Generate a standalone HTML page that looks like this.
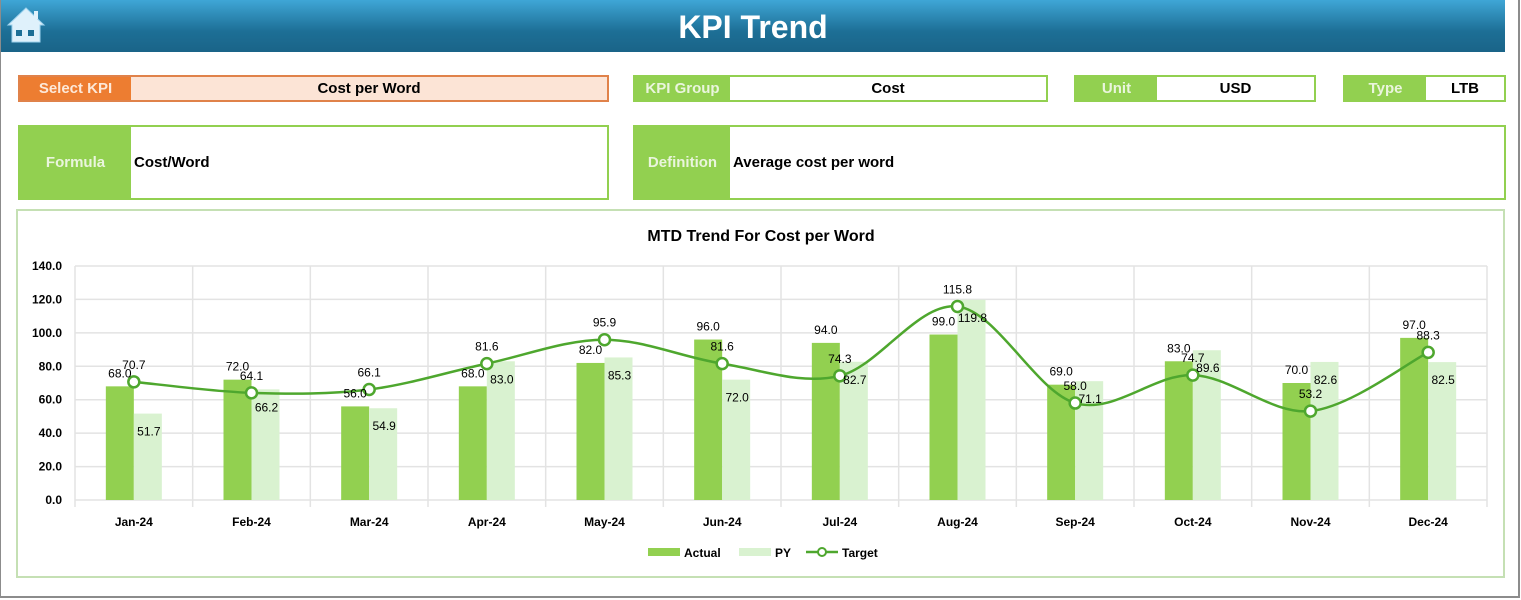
<!DOCTYPE html>
<html><head><meta charset="utf-8"><style>
body{margin:0;width:1521px;height:600px;overflow:hidden;background:#fff;font-family:"Liberation Sans",sans-serif;}
.frame{position:absolute;left:0;top:0;width:1517px;height:596px;border:2px solid #8c8c8c;border-top:none;border-left:1px solid #8c8c8c;}
.hdr{position:absolute;left:1px;top:0;width:1504px;height:52px;background:linear-gradient(#3fa6d6,#1d6f96 60%,#1a6488);}
.hdr h1{margin:0;text-align:center;color:#fff;font-size:32px;line-height:54px;font-weight:bold;}
.box{position:absolute;border:2px solid #92d050;box-sizing:border-box;background:#fff;font-weight:bold;font-size:15px;}
.lab{position:absolute;left:0;top:0;bottom:0;background:#92d050;color:#eaf5dd;display:flex;align-items:center;justify-content:center;}
.val{position:absolute;top:0;bottom:0;right:0;display:flex;align-items:center;justify-content:center;color:#000;}
</style></head><body>
<div class="frame"></div>
<div class="hdr"><h1>KPI Trend</h1>
<svg style="position:absolute;left:5px;top:6px" width="40" height="38" viewBox="0 0 40 38"><path d="M20 2 L38 19 L34 19 L34 36 L6 36 L6 19 L2 19 Z" fill="#dff1fb" stroke="#9fd3ee" stroke-width="1"/><rect x="10" y="24" width="6" height="6" fill="#1d6f96"/><rect x="22" y="24" width="6" height="6" fill="#1d6f96"/><rect x="28" y="5" width="4" height="8" fill="#dff1fb"/></svg></div>

<div class="box" style="left:18px;top:75px;width:591px;height:27px;border-color:#e0824a;background:#fce4d6"><div class="lab" style="width:111px;background:#ed7d31;color:#fde9d9">Select KPI</div><div class="val" style="left:111px">Cost per Word</div></div>
<div class="box" style="left:633px;top:75px;width:415px;height:27px"><div class="lab" style="width:95px">KPI Group</div><div class="val" style="left:95px">Cost</div></div>
<div class="box" style="left:1074px;top:75px;width:242px;height:27px"><div class="lab" style="width:81px">Unit</div><div class="val" style="left:81px">USD</div></div>
<div class="box" style="left:1343px;top:75px;width:163px;height:27px"><div class="lab" style="width:81px">Type</div><div class="val" style="left:81px">LTB</div></div>
<div class="box" style="left:18px;top:125px;width:591px;height:75px"><div class="lab" style="width:111px">Formula</div><div class="val" style="left:114px;justify-content:flex-start">Cost/Word</div></div>
<div class="box" style="left:633px;top:125px;width:873px;height:75px"><div class="lab" style="width:95px">Definition</div><div class="val" style="left:98px;justify-content:flex-start">Average cost per word</div></div>
<div class="box" style="left:16px;top:209px;width:1489px;height:369px;border-color:#c5e0b4"></div>
<svg id="chart" style="position:absolute;left:0;top:0" width="1521" height="600" font-family="Liberation Sans, sans-serif"></svg>
<script>
const categories=["Jan-24","Feb-24","Mar-24","Apr-24","May-24","Jun-24","Jul-24","Aug-24","Sep-24","Oct-24","Nov-24","Dec-24"];
const actual=[68.0,72.0,56.0,68.0,82.0,96.0,94.0,99.0,69.0,83.0,70.0,97.0];
const py=[51.7,66.2,54.9,83.0,85.3,72.0,82.7,119.8,71.1,89.6,82.6,82.5];
const target=[70.7,64.1,66.1,81.6,95.9,81.6,74.3,115.8,58.0,74.7,53.2,88.3];
const yTicks=[0,20,40,60,80,100,120,140];
const svg=document.getElementById('chart');const NS='http://www.w3.org/2000/svg';
const L=75,R=1487,Y0=500,Y1=266,YMAX=140;
const bw=(R-L)/categories.length;
const x=i=>L+bw*(i+0.5);const y=v=>Y0-(v/YMAX)*(Y0-Y1);
function el(t,a,txt){const e=document.createElementNS(NS,t);for(const k in a)e.setAttribute(k,a[k]);if(txt!=null)e.textContent=txt;svg.appendChild(e);return e;}
let e;
e=el('text',{x:761,y:241,'text-anchor':'middle','font-size':16,'font-weight':'bold',fill:'#000'},'MTD Trend For Cost per Word');


yTicks.forEach(t=>{
 e=el('line',{x1:L,x2:R,y1:y(t),y2:y(t),stroke:'#e3e3e3','stroke-width':1.5});
 
 
 e=el('text',{x:62,y:y(t)+4,'text-anchor':'end','font-size':12,'font-weight':'bold',fill:'#000'},t.toFixed(1));
 
 
});
for(let i=0;i<=categories.length;i++){
 e=el('line',{x1:L+bw*i,x2:L+bw*i,y1:Y1,y2:Y0+7,stroke:'#e3e3e3','stroke-width':1.5});
 
 
}
categories.forEach((c,i)=>{
 e=el('rect',{x:x(i)-28,y:y(actual[i]),width:28,height:Y0-y(actual[i]),fill:'#92d050'});
 
 
 e=el('rect',{x:x(i),y:y(py[i]),width:28,height:Y0-y(py[i]),fill:'#d9f2d0'});
 
 
 e=el('text',{x:x(i),y:526,'text-anchor':'middle','font-size':12,'font-weight':'bold',fill:'#000'},c);
 
 
});
let d='M'+x(0)+','+y(target[0]);
for(let i=0;i<target.length-1;i++){
 const p0=[x(Math.max(i-1,0)),y(target[Math.max(i-1,0)])],p1=[x(i),y(target[i])],p2=[x(i+1),y(target[i+1])],p3=[x(Math.min(i+2,target.length-1)),y(target[Math.min(i+2,target.length-1)])];
 const c1=[p1[0]+(p2[0]-p0[0])/6,p1[1]+(p2[1]-p0[1])/6],c2=[p2[0]-(p3[0]-p1[0])/6,p2[1]-(p3[1]-p1[1])/6];
 d+=` C${c1[0]},${c1[1]} ${c2[0]},${c2[1]} ${p2[0]},${p2[1]}`;
}
e=el('path',{d:d,fill:'none',stroke:'#4ea72e','stroke-width':2.5});


categories.forEach((c,i)=>{
 e=el('circle',{cx:x(i),cy:y(target[i]),r:5.5,fill:'#fff',stroke:'#4ea72e','stroke-width':2.5});
 
 
 e=el('text',{x:x(i)-14,y:y(actual[i])-9,'text-anchor':'middle','font-size':12,fill:'#000'},actual[i].toFixed(1));
 
 
 e=el('text',{x:x(i)+15,y:y(py[i])+22,'text-anchor':'middle','font-size':12,fill:'#000'},py[i].toFixed(1));
 
 
 e=el('text',{x:x(i),y:y(target[i])-13,'text-anchor':'middle','font-size':12,fill:'#000'},target[i].toFixed(1));
 
 
});
const lg=[['Actual',648],['PY',739],['Target',806]];
e=el('rect',{x:648,y:548,width:32,height:8,fill:'#92d050'});


e=el('text',{x:684,y:557,'font-size':12,'font-weight':'bold'},'Actual');


e=el('rect',{x:739,y:548,width:32,height:8,fill:'#d9f2d0'});


e=el('text',{x:775,y:557,'font-size':12,'font-weight':'bold'},'PY');


e=el('line',{x1:806,x2:838,y1:552,y2:552,stroke:'#4ea72e','stroke-width':2.5});


e=el('circle',{cx:822,cy:552,r:4,fill:'#fff',stroke:'#4ea72e','stroke-width':2});


e=el('text',{x:842,y:557,'font-size':12,'font-weight':'bold'},'Target');


</script>
</body></html>
